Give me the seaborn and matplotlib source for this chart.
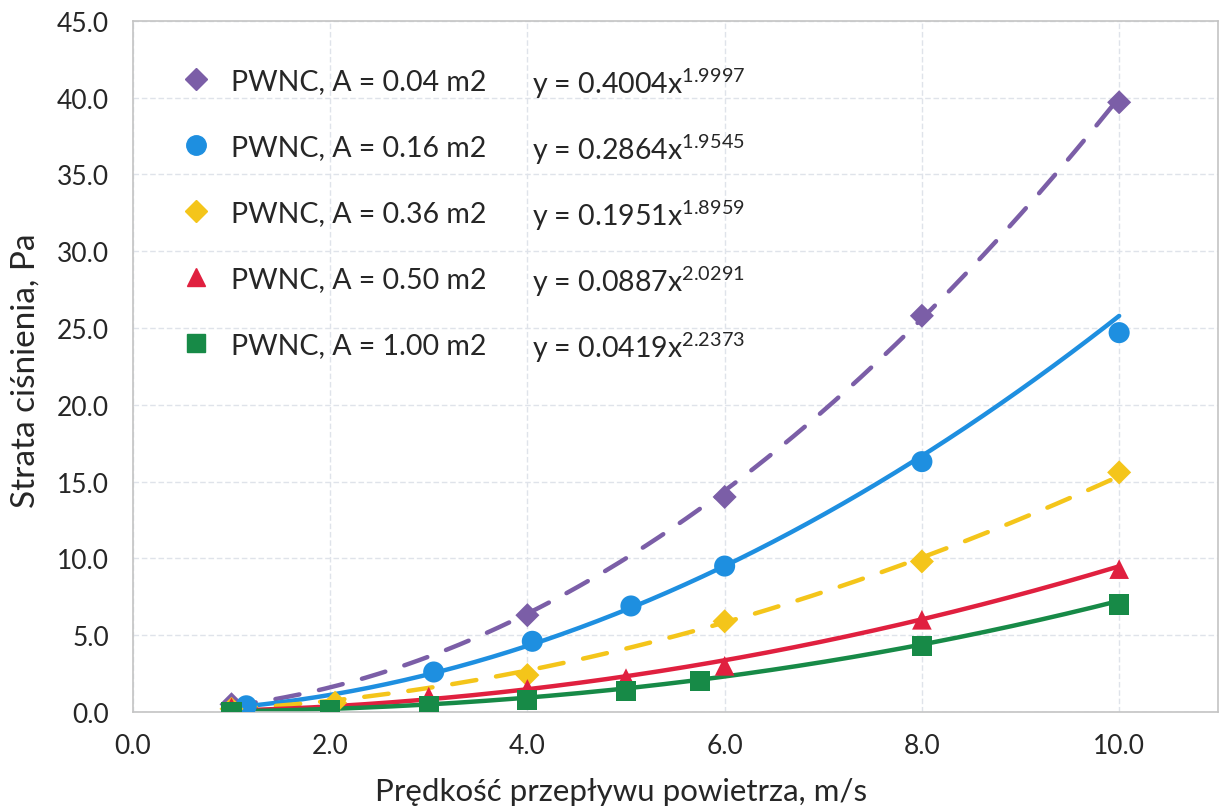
import numpy as np
import pandas as pd
import seaborn as sns
import matplotlib
matplotlib.use("Agg")
import matplotlib.pyplot as plt
from matplotlib.lines import Line2D

# ---- data ----
labels = ["PWNC, A = 0.04 m2", "PWNC, A = 0.16 m2", "PWNC, A = 0.36 m2",
          "PWNC, A = 0.50 m2", "PWNC, A = 1.00 m2"]

x_004 = [1.0, 4.0, 6.0, 8.0, 10.0]
y_004 = [0.5, 6.3, 14.0, 25.8, 39.7]

x_016 = [1.15, 3.05, 4.05, 5.05, 6.0, 8.0, 10.0]
y_016 = [0.4, 2.6, 4.6, 6.9, 9.5, 16.3, 24.7]

x_036 = [1.0, 2.05, 4.0, 6.0, 8.0, 10.0]
y_036 = [0.2, 0.6, 2.4, 5.9, 9.8, 15.6]

x_050 = [1.0, 3.0, 4.0, 5.0, 6.0, 8.0, 10.0]
y_050 = [0.3, 1.0, 1.5, 2.2, 3.0, 6.0, 9.3]

x_100 = [1.0, 2.0, 3.0, 4.0, 5.0, 5.75, 8.0, 10.0]
y_100 = [0.0, 0.1, 0.4, 0.75, 1.35, 2.0, 4.3, 7.0]

# power trendline coefficients shown on the chart: y = a * x^b
fit_a = [0.4004, 0.2864, 0.1951, 0.0887, 0.0419]
fit_b = [1.9997, 1.9545, 1.8959, 2.0291, 2.2373]
fit_a_txt = ["0.4004", "0.2864", "0.1951", "0.0887", "0.0419"]
fit_b_txt = ["1.9997", "1.9545", "1.8959", "2.0291", "2.2373"]

x_ticks = [0, 2, 4, 6, 8, 10]
y_ticks = [0, 5, 10, 15, 20, 25, 30, 35, 40, 45]

# ---- styling ----
colors = ["#7B5EA7", "#1E8FE0", "#F4C51A", "#E0203F", "#178A47"]
markers = ["D", "o", "D", "^", "s"]
msizes = [150, 230, 150, 200, 210]
dashed = [True, False, True, False, False]

sns.set_theme(style="white")
plt.rcParams["font.family"] = ["Lato", "DejaVu Sans"]
plt.rcParams["mathtext.fontset"] = "custom"
plt.rcParams["mathtext.rm"] = "Lato"

fig = plt.figure(figsize=(12.19, 8.12), dpi=100)
ax = fig.add_axes([0.109, 0.122, 0.890, 0.851])

xs = [x_004, x_016, x_036, x_050, x_100]
ys = [y_004, y_016, y_036, y_050, y_100]

frames = []
for lab, xv, yv in zip(labels, xs, ys):
    frames.append(pd.DataFrame({"x": xv, "y": yv, "series": lab}))
df = pd.concat(frames, ignore_index=True)

# trendlines
for i, lab in enumerate(labels):
    xx = np.linspace(min(xs[i]), max(xs[i]), 200)
    yy = fit_a[i] * xx ** fit_b[i]
    tdf = pd.DataFrame({"x": xx, "y": yy})
    sns.lineplot(data=tdf, x="x", y="y", ax=ax, color=colors[i], lw=3.2,
                 linestyle="--" if dashed[i] else "-",
                 dashes=False, legend=False, zorder=2)
    if dashed[i]:
        ax.lines[-1].set_dashes([5.5, 4.5])
        ax.lines[-1].set_dash_capstyle("round")

# markers
for i, lab in enumerate(labels):
    sub = df[df["series"] == lab]
    sns.scatterplot(data=sub, x="x", y="y", ax=ax, color=colors[i],
                    marker=markers[i], s=msizes[i], edgecolor="none",
                    legend=False, zorder=3)

ax.set_xlim(0, 11)
ax.set_ylim(0, 45)
ax.set_xticks(x_ticks)
ax.set_yticks(y_ticks)
ax.set_xticklabels([f"{v:.1f}" for v in x_ticks])
ax.set_yticklabels([f"{v:.1f}" for v in y_ticks])
ax.tick_params(axis="both", labelsize=19, colors="#262626", length=0)
ax.tick_params(axis="x", pad=15)
ax.tick_params(axis="y", pad=17)
ax.grid(True, color="#dfe3ea", lw=1.0, ls=(0, (4, 2)))
for s in ax.spines.values():
    s.set_color("#c4c4c4")
    s.set_linewidth(1.2)

ax.set_xlabel("Prędkość przepływu powietrza, m/s", fontsize=22.5, color="#262626")
ax.set_ylabel("Strata ciśnienia, Pa", fontsize=24, color="#262626")
ax.xaxis.set_label_coords(0.45, -0.094)
ax.yaxis.set_label_coords(-0.085, 0.495)

handles = [Line2D([], [], ls="none", marker=markers[i], color=colors[i],
                  markersize=[11, 14, 11, 13, 13][i]) for i in range(5)]
leg = ax.legend(handles, labels, loc="upper left", bbox_to_anchor=(0.035, 0.948),
                frameon=False, fontsize=20.5, labelspacing=1.40, handletextpad=0.7,
                handlelength=1.0, borderaxespad=0)
for t in leg.get_texts():
    t.set_color("#262626")

eq_y = [41.0, 36.7, 32.4, 28.1, 23.8]
for i in range(5):
    ax.text(4.05, eq_y[i], "y = " + fit_a_txt[i] + r"x$^{\mathregular{" + fit_b_txt[i] + "}}$",
            fontsize=20.5, color="#262626", va="center", ha="left")

fig.savefig("out.png", dpi=100)
